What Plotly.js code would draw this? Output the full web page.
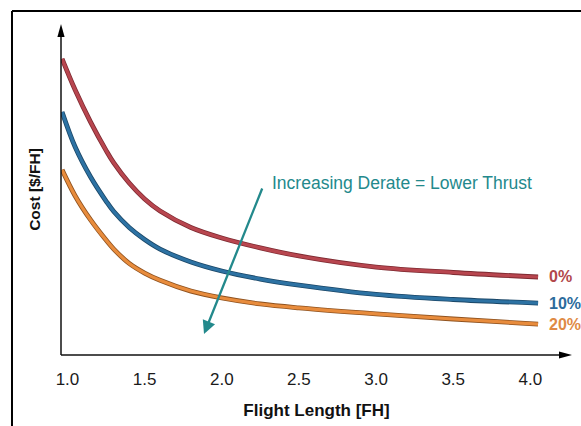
<!DOCTYPE html>
<html>
<head>
<meta charset="utf-8">
<script src="https://cdn.plot.ly/plotly-3.0.1.min.js"></script>
<style>
  html, body { margin: 0; padding: 0; background: #ffffff; }
  #chart { width: 581px; height: 426px; }
</style>
</head>
<body>
<div id="chart"></div>
<script>
// Flight length in flight hours (shared x positions for all three curves)
const flightLength = [0.965, 1.05, 1.15, 1.25, 1.3, 1.4, 1.5, 1.6, 1.8, 2.0, 2.25, 2.5, 3.0, 3.5, 4.05];

// Relative maintenance cost per flight hour for each takeoff derate level
const cost0  = [98.7, 88.3, 77.6, 68.2, 64.0, 57.3, 52.0, 48.0, 42.5, 39.0, 35.7, 33.0, 29.3, 27.5, 26.0];
const cost10 = [81.0, 69.3, 59.3, 51.3, 47.8, 42.5, 38.5, 35.3, 31.0, 28.0, 25.3, 23.3, 20.2, 18.5, 17.3];
const cost20 = [61.7, 53.0, 45.0, 38.3, 35.3, 30.5, 27.3, 24.9, 21.3, 19.0, 17.0, 15.7, 13.7, 12.0, 10.3];

const derateLabels = ['0%', '10%', '20%'];
const xTickVals = [1.0, 1.5, 2.0, 2.5, 3.0, 3.5, 4.0];
const xTickText = ['1.0', '1.5', '2.0', '2.5', '3.0', '3.5', '4.0'];

const FONT = '"Liberation Sans", Arial, sans-serif';

const styles = [
  { fill: '#b8464f', edge: '#7d2a31', text: '#b2474c' },
  { fill: '#2d72a3', edge: '#1b4767', text: '#2c6b9c' },
  { fill: '#e88c3d', edge: '#8f521f', text: '#df8a45' }
];
const costSeries = [cost0, cost10, cost20];

const traces = [];
costSeries.forEach((ys, i) => {
  // darker under-stroke gives each curve its outlined look
  traces.push({
    x: flightLength, y: ys, type: 'scatter', mode: 'lines',
    line: { color: styles[i].edge, width: 4.8, shape: 'spline', smoothing: 1 },
    hoverinfo: 'skip', showlegend: false
  });
  traces.push({
    x: flightLength, y: ys, type: 'scatter', mode: 'lines',
    name: derateLabels[i],
    line: { color: styles[i].fill, width: 3.2, shape: 'spline', smoothing: 1 },
    showlegend: false
  });
});

const xMin = 0.958, xMax = 4.27, yMin = 0, yMax = 110.3;

// derate labels sit just right of each curve's end point
const endLabels = costSeries.map((ys, i) => ({
  x: flightLength[flightLength.length - 1], y: ys[ys.length - 1],
  xref: 'x', yref: 'y', xanchor: 'left', yanchor: 'middle',
  xshift: 9, showarrow: false,
  text: '<b>' + derateLabels[i] + '</b>',
  font: { family: FONT, size: 16, color: styles[i].text }
}));

const layout = {
  width: 581, height: 426,
  margin: { l: 61, r: 9, t: 24, b: 71 },
  paper_bgcolor: '#ffffff', plot_bgcolor: '#ffffff',
  showlegend: false,
  xaxis: {
    range: [xMin, xMax],
    tickvals: xTickVals, ticktext: xTickText,
    ticks: 'outside', ticklen: 9, tickcolor: 'rgba(0,0,0,0)',
    tickfont: { family: FONT, size: 17, color: '#1a1a1a' },
    showgrid: false, zeroline: false, showline: false,
    title: { text: '<b>Flight Length [FH]</b>', standoff: 15,
             font: { family: FONT, size: 17, color: '#111111' } }
  },
  yaxis: {
    range: [yMin, yMax],
    showticklabels: false, ticks: '',
    showgrid: false, zeroline: false, showline: false,
    title: { text: '<b>Cost [$/FH]</b>', standoff: 15,
             font: { family: FONT, size: 15.5, color: '#111111' } }
  },
  shapes: [
    // outer frame (open to the right and bottom)
    { type: 'line', xref: 'paper', yref: 'paper', x0: -0.0959, x1: 1.05, y0: 1.039, y1: 1.039,
      line: { color: '#000000', width: 2 } },
    { type: 'line', xref: 'paper', yref: 'paper', x0: -0.0959, x1: -0.0959, y0: 1.039, y1: -0.25,
      line: { color: '#000000', width: 2 } },
    // axis lines
    { type: 'line', xref: 'paper', yref: 'paper', x0: 0, x1: 0.985, y0: 0, y1: 0,
      line: { color: '#111111', width: 1.5 } },
    { type: 'line', xref: 'paper', yref: 'paper', x0: 0, x1: 0, y0: 0, y1: 0.975,
      line: { color: '#111111', width: 1.5 } },
    // axis arrowheads
    { type: 'path', xref: 'paper', yref: 'paper', xsizemode: 'pixel', ysizemode: 'pixel',
      xanchor: 1, yanchor: 0, path: 'M0,0 L-13,3.6 L-13,-3.6 Z',
      fillcolor: '#000000', line: { width: 0 } },
    { type: 'path', xref: 'paper', yref: 'paper', xsizemode: 'pixel', ysizemode: 'pixel',
      xanchor: 0, yanchor: 1, path: 'M0,0 L3.6,-13 L-3.6,-13 Z',
      fillcolor: '#000000', line: { width: 0 } }
  ],
  annotations: [
    {
      x: 2.31, y: 57.3, xref: 'x', yref: 'y', xanchor: 'left', yanchor: 'middle',
      showarrow: false, text: 'Increasing Derate = Lower Thrust',
      font: { family: FONT, size: 17.5, color: '#23898c' }
    },
    {
      x: 1.885, y: 7.0, xref: 'x', yref: 'y',
      ax: 2.266, ay: 56.0, axref: 'x', ayref: 'y',
      text: '', showarrow: true, arrowhead: 2, arrowsize: 1.15, arrowwidth: 2.3,
      arrowcolor: '#23898c'
    }
  ].concat(endLabels)
};

Plotly.newPlot('chart', traces, layout, { displayModeBar: false, staticPlot: true });
</script>
</body>
</html>
